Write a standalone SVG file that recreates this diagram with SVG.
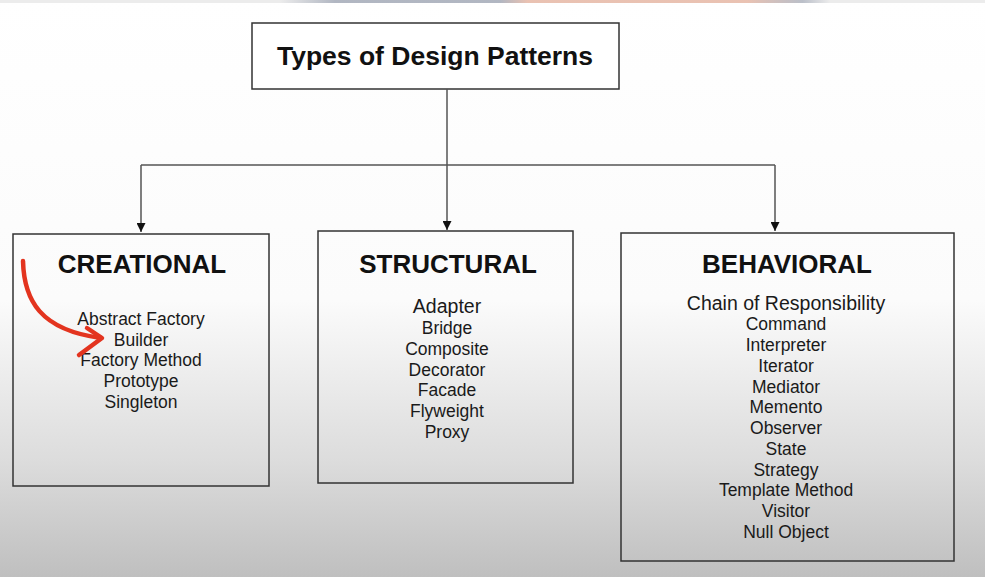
<svg xmlns="http://www.w3.org/2000/svg" width="985" height="577" viewBox="0 0 985 577">
<defs>
<linearGradient id="bg" x1="0" y1="0" x2="0" y2="1">
<stop offset="0" stop-color="#ffffff"/>
<stop offset="0.52" stop-color="#fbfbfb"/>
<stop offset="0.8" stop-color="#dcdcdc"/>
<stop offset="1" stop-color="#bfbfbf"/>
</linearGradient>
<linearGradient id="strip" x1="0" y1="0" x2="1" y2="0">
<stop offset="0" stop-color="#8a93a6" stop-opacity="0"/>
<stop offset="0.1" stop-color="#8a93a6" stop-opacity="0.6"/>
<stop offset="0.4" stop-color="#8a93a6" stop-opacity="0.6"/>
<stop offset="0.45" stop-color="#e8a68c" stop-opacity="0.6"/>
<stop offset="0.85" stop-color="#e8a68c" stop-opacity="0.6"/>
<stop offset="0.95" stop-color="#8a93a6" stop-opacity="0.5"/>
<stop offset="1" stop-color="#8a93a6" stop-opacity="0"/>
</linearGradient>
<marker id="arr" viewBox="0 0 10 10" refX="10" refY="5" markerWidth="9" markerHeight="9" markerUnits="userSpaceOnUse" orient="auto">
<path d="M0,0 L10,5 L0,10 z" fill="#111"/>
</marker>
<style>
.box{fill:none;stroke:#333;stroke-width:1.5}
.tbox{fill:#fff;stroke:#333;stroke-width:1.5}
.h{font-family:"Liberation Sans",Arial,sans-serif;font-weight:bold;font-size:26px;fill:#111;text-anchor:middle}
.i{font-family:"Liberation Sans",Arial,sans-serif;font-size:17.5px;fill:#1a1a1a;text-anchor:middle}
.big{font-size:19.5px}
.con{fill:none;stroke:#555;stroke-width:1.5}
</style>
</defs>
<rect width="985" height="577" fill="url(#bg)"/>
<rect x="0" y="0" width="985" height="3" fill="#ececec"/>
<rect x="280" y="0" width="550" height="3" fill="url(#strip)"/>

<g id="title">
<rect class="tbox" x="252" y="23" width="367" height="66"/>
<text class="h" x="435" y="65" style="font-size:26.5px">Types of Design Patterns</text>
</g>

<g id="connectors">
<path class="con" d="M447,89 V165"/>
<path class="con" d="M141,165 H775"/>
<path class="con" d="M141,165 V232" marker-end="url(#arr)"/>
<path class="con" d="M447,165 V230" marker-end="url(#arr)"/>
<path class="con" d="M775,165 V231" marker-end="url(#arr)"/>
</g>

<g id="creational">
<rect class="box" x="13" y="234" width="256" height="252"/>
<text class="h" x="142" y="273">CREATIONAL</text>
<text class="i" x="141" y="325">Abstract Factory</text>
<text class="i" x="141" y="345.5">Builder</text>
<text class="i" x="141" y="366">Factory Method</text>
<text class="i" x="141" y="387">Prototype</text>
<text class="i" x="141" y="407.5">Singleton</text>
</g>

<g id="structural">
<rect class="box" x="318" y="231" width="255" height="252"/>
<text class="h" x="448" y="273">STRUCTURAL</text>
<text class="i big" x="447" y="313">Adapter</text>
<text class="i" x="447" y="334">Bridge</text>
<text class="i" x="447" y="355">Composite</text>
<text class="i" x="447" y="375.5">Decorator</text>
<text class="i" x="447" y="396">Facade</text>
<text class="i" x="447" y="417">Flyweight</text>
<text class="i" x="447" y="437.5">Proxy</text>
</g>

<g id="behavioral">
<rect class="box" x="621" y="233" width="333" height="328"/>
<text class="h" x="787" y="273">BEHAVIORAL</text>
<text class="i big" x="786" y="310">Chain of Responsibility</text>
<text class="i" x="786" y="330">Command</text>
<text class="i" x="786" y="351">Interpreter</text>
<text class="i" x="786" y="372">Iterator</text>
<text class="i" x="786" y="392.5">Mediator</text>
<text class="i" x="786" y="413">Memento</text>
<text class="i" x="786" y="434">Observer</text>
<text class="i" x="786" y="455">State</text>
<text class="i" x="786" y="475.5">Strategy</text>
<text class="i" x="786" y="496">Template Method</text>
<text class="i" x="786" y="517">Visitor</text>
<text class="i" x="786" y="538">Null Object</text>
</g>

<g id="annotation">
<path d="M23,261 C24,300 40,330 101,338" fill="none" stroke="#e3341f" stroke-width="4.5" stroke-linecap="round"/>
<path d="M87,328 L102,338 L79,355" fill="none" stroke="#e3341f" stroke-width="4.5" stroke-linecap="round" stroke-linejoin="round"/>
</g>
</svg>
